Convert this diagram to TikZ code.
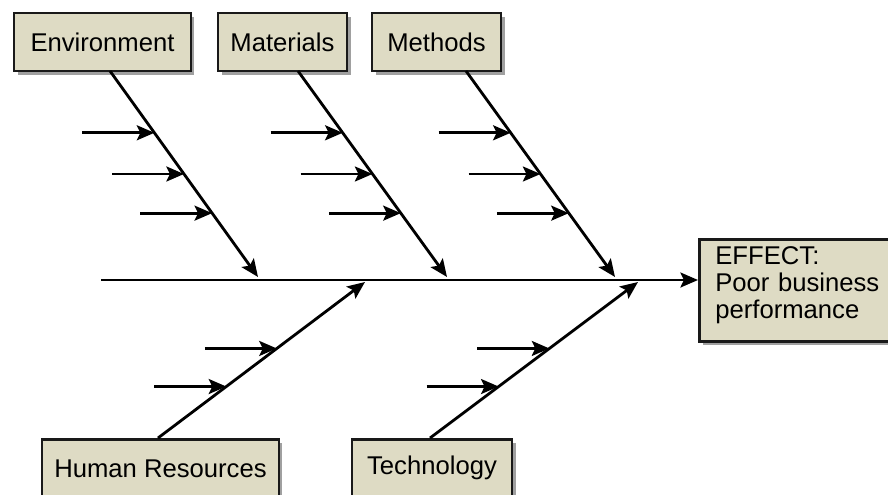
\documentclass[tikz,border=0pt]{standalone}
\usepackage{fontspec}
\setmainfont{Liberation Sans}
\usetikzlibrary{arrows.meta,shadows,calc}
\definecolor{boxtan}{RGB}{222,219,196}
\newcommand{\fishfont}{\fontsize{14.6}{15.4}\selectfont}

\tikzset{
  causebox/.style={draw=black!90, line width=1.5pt, fill=boxtan, font=\fishfont,
    minimum height=1.16cm, inner sep=0pt,
    drop shadow={shadow xshift=2pt, shadow yshift=-2pt, opacity=0.75}},
  bone/.style={line width=1.6pt, -{Stealth[length=10pt,width=8.5pt,inset=2pt]}},
  twig/.style={bone}
}

\begin{document}
\begin{tikzpicture}[x=0.02cm,y=-0.02cm]
\useasboundingbox (0,0) rectangle (888,494);
% cause boxes
\node[causebox,minimum width=3.54cm] (env) at (102.5,42) {Environment};
\node[causebox,minimum width=2.58cm] (mat) at (282.5,42) {Materials};
\node[causebox,minimum width=2.58cm] (meth) at (436.5,42) {Methods};
\node[causebox,minimum width=4.74cm,anchor=north] (hr) at (160.5,438) {Human Resources};
\node[causebox,minimum width=3.2cm,anchor=north] (tech) at (432,438) {Technology};
\node[causebox,anchor=north west,minimum width=4.2cm,minimum height=2.04cm,
  text width=3.7cm,align=left,inner xsep=0.32cm] (effect) at (698,238)
  {EFFECT:\\Poor business\\performance\\[-6.7pt]\mbox{}};

% spine
\coordinate (tail) at (101,280);
\draw[bone] (tail) -- (tail -| effect.west);

% bones
\coordinate (env-s) at (110,71);   \coordinate (env-e) at (258,277);
\coordinate (mat-s) at (298,71);   \coordinate (mat-e) at (447,277);
\coordinate (meth-s) at (466,71);  \coordinate (meth-e) at (615,277);
\coordinate (hr-s) at (158,438);   \coordinate (hr-e) at (365,282);
\coordinate (tech-s) at (430,438); \coordinate (tech-e) at (638,282);
\draw[bone] (env-s) -- (env-e);
\draw[bone] (mat-s) -- (mat-e);
\draw[bone] (meth-s) -- (meth-e);
\draw[bone] (hr-s) -- (hr-e);
\draw[bone] (tech-s) -- (tech-e);

% small causes
\foreach \b in {env,mat,meth}
  \foreach \t in {0.3,0.5,0.69}{
    \coordinate (p) at ($(\b-s)!\t!(\b-e)$);
    \draw[twig] ($(p)+(-72,0)$) -- (p);
  }
\foreach \b in {hr,tech}
  \foreach \t in {0.33,0.574}{
    \coordinate (p) at ($(\b-s)!\t!(\b-e)$);
    \draw[twig] ($(p)+(-72,0)$) -- (p);
  }
\end{tikzpicture}
\end{document}
